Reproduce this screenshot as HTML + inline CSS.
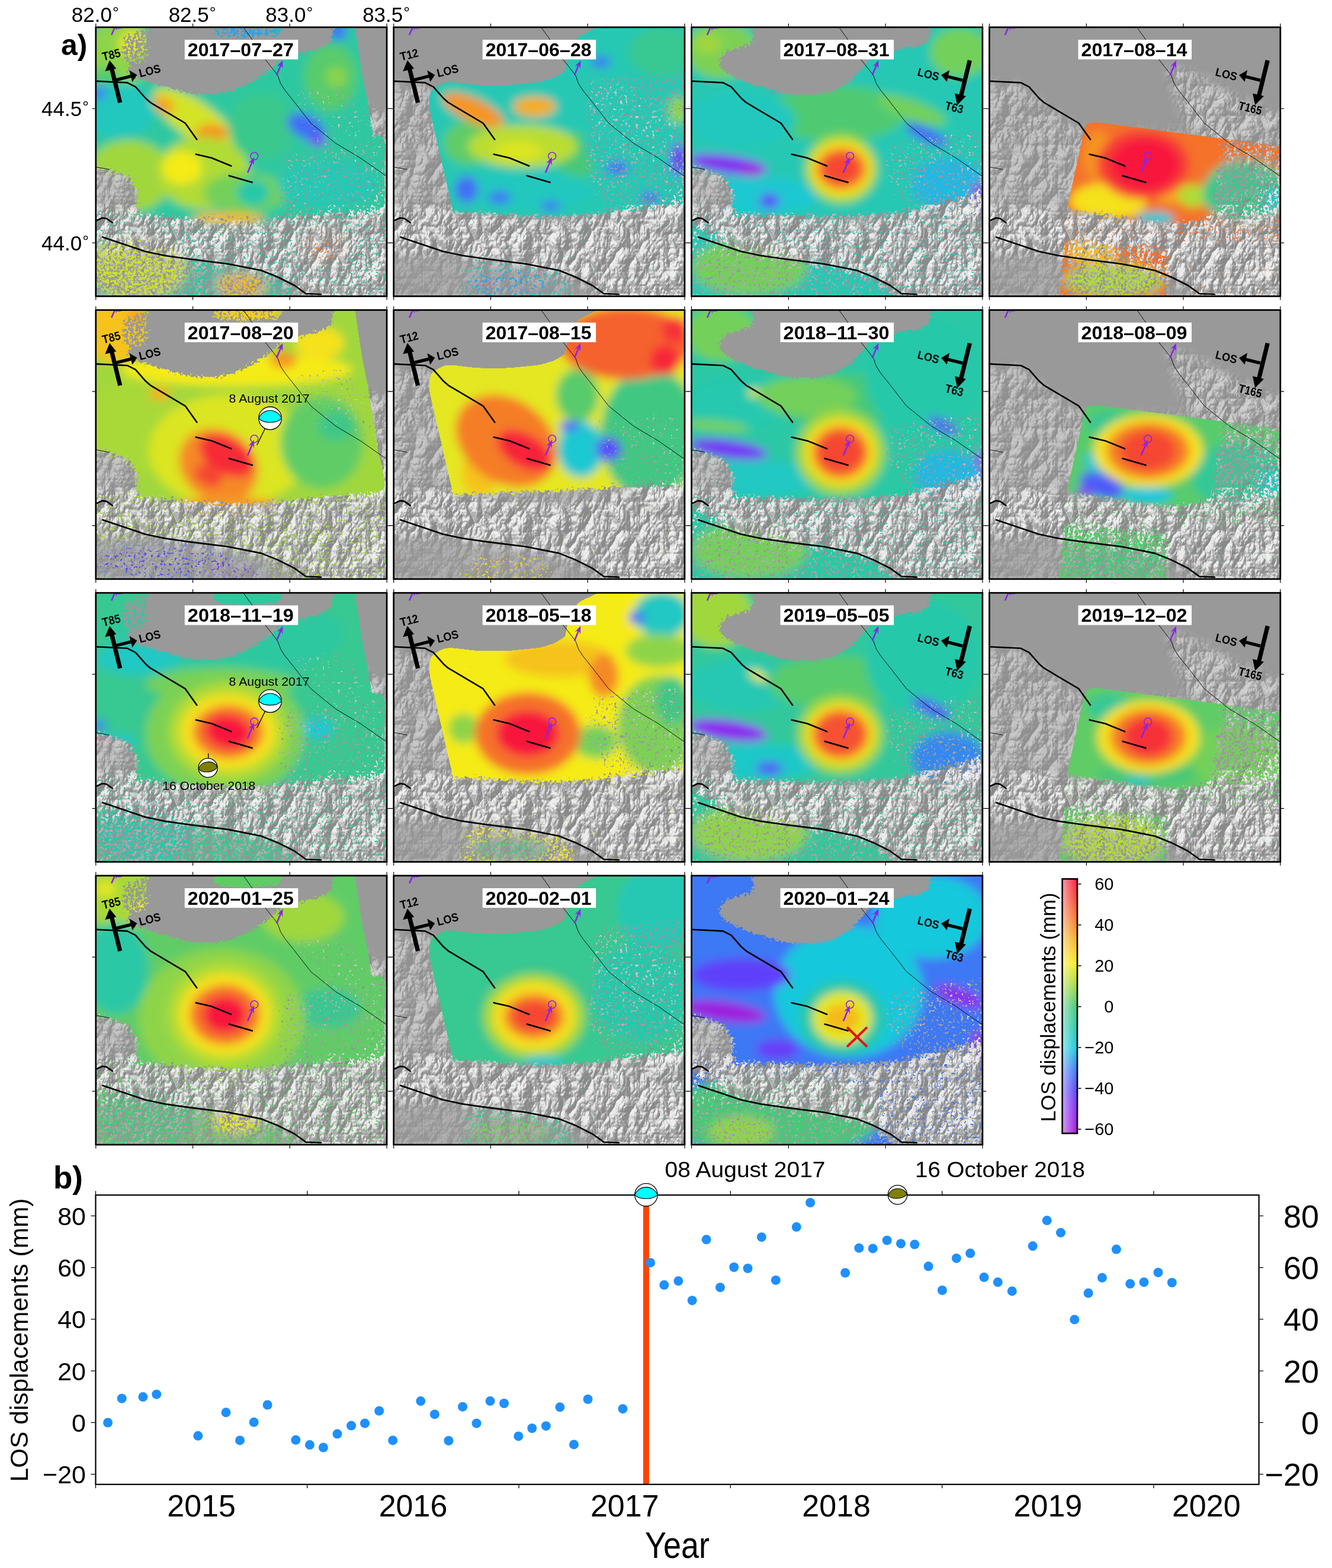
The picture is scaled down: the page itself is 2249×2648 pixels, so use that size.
<!DOCTYPE html><html><head><meta charset="utf-8"><title>LOS displacement maps and time series</title>
<style>html,body{margin:0;padding:0;background:#fff;overflow:hidden}svg{display:block}</style></head><body>
<svg width="2249" height="2648" viewBox="0 0 2249 2648">
<defs><filter id="relief" filterUnits="userSpaceOnUse" x="0" y="0" width="491.3" height="454.3" color-interpolation-filters="sRGB"><feTurbulence type="turbulence" baseFrequency="0.03 0.02" numOctaves="4" seed="11" result="t"/><feDiffuseLighting in="t" surfaceScale="14" diffuseConstant="1" lighting-color="#ffffff"><feDistantLight azimuth="225" elevation="38"/></feDiffuseLighting><feComponentTransfer><feFuncR type="table" tableValues="0.54 0.6 0.66 0.72 0.855 0.95"/><feFuncG type="table" tableValues="0.54 0.6 0.66 0.72 0.855 0.95"/><feFuncB type="table" tableValues="0.54 0.6 0.66 0.72 0.855 0.95"/></feComponentTransfer></filter><filter id="relief2" filterUnits="userSpaceOnUse" x="0" y="0" width="491.3" height="454.3" color-interpolation-filters="sRGB"><feTurbulence type="fractalNoise" baseFrequency="0.012 0.03" numOctaves="4" seed="3" result="t"/><feDiffuseLighting in="t" surfaceScale="9" diffuseConstant="1.0" lighting-color="#ffffff"><feDistantLight azimuth="225" elevation="40"/></feDiffuseLighting></filter><filter id="bl8" x="-20%" y="-20%" width="140%" height="140%"><feGaussianBlur stdDeviation="8"/></filter><filter id="bl4" x="-20%" y="-20%" width="140%" height="140%"><feGaussianBlur stdDeviation="4"/></filter><filter id="bl12" x="-30%" y="-30%" width="160%" height="160%"><feGaussianBlur stdDeviation="12"/></filter><filter id="spk" filterUnits="userSpaceOnUse" x="0" y="0" width="491.3" height="454.3" color-interpolation-filters="sRGB"><feGaussianBlur in="SourceGraphic" stdDeviation="6" result="b"/><feColorMatrix in="b" type="matrix" values="0 0 0 0 0 0 0 0 0 0 0 0 0 0 0 1 0 0 0 0" result="L"/><feTurbulence type="fractalNoise" baseFrequency="0.22" numOctaves="3" seed="5" result="n"/><feColorMatrix in="n" type="matrix" values="0 0 0 0 0 0 0 0 0 0 0 0 0 0 0 1 0 0 0 0" result="nA"/><feComposite in="L" in2="nA" operator="arithmetic" k2="1" k3="1.1" k4="-0.6" result="c"/><feComponentTransfer in="c" result="th"><feFuncA type="discrete" tableValues="0 1"/></feComponentTransfer><feFlood flood-color="#fff"/><feComposite operator="in" in2="th"/></filter><mask id="mtn" maskUnits="userSpaceOnUse" x="0" y="0" width="491.3" height="454.3"><g filter="url(#bl8)"><polygon points="-20,312 40,300 100,305 160,318 230,322 300,322 360,310 420,290 470,262 520,250 520,480 -20,480" fill="#fff"/><polygon points="-20,95 50,95 80,120 120,150 160,175 175,200 165,260 140,300 -20,310" fill="#8a8a8a"/><polygon points="300,65 330,72 370,88 420,118 491,148 520,160 520,270 470,262 420,240 370,200 330,160 310,110" fill="#a0a0a0"/><polygon points="150,180 330,170 380,210 400,260 360,310 160,318" fill="#666"/><polygon points="-20,380 90,382 160,392 230,402 290,416 340,440 370,470 -20,470" fill="#444"/></g></mask><mask id="cov0" maskUnits="userSpaceOnUse" x="0" y="0" width="491.3" height="454.3"><g filter="url(#spk)"><polygon points="0,0 423.4,0 436,83.8 447.2,139.7 458.4,223.6 472.3,279.5 475.1,307.4 419.2,310.2 335.4,318.6 251.5,324.2 167.7,321.4 83.8,313 0,310.2" fill="#fff"/><polygon points="0,310.2 83.8,313 167.7,321.4 251.5,324.2 335.4,318.6 419.2,310.2 475.1,307.4 493,321.4 493,461.2 0,461.2" fill="#5a5a5a"/><polygon points="0,357.7 83.8,377.3 153.7,391.3 251.5,405.3 307.4,422 349.4,461.2 0,461.2" fill="#8a8a8a"/><polygon points="0,236.2 22.4,239 55.9,251.5 72.7,279.5 69.9,310.2 0,310.2" fill="#3a3a3a"/><polygon points="321.4,106.2 419.2,92.2 447.2,139.7 461.2,223.6 363.3,195.6" fill="#c8c8c8"/><polygon points="92.2,0 195.6,0 201.2,16.8 251.5,22.4 307.4,16.8 321.4,0 399.7,0 396.9,27.9 363.3,39.1 321.4,47.5 301.8,64.3 279.5,81.1 251.5,97.8 209.6,111.8 167.7,111.8 125.8,103.4 92.2,92.2 55.9,83.8 55.9,55.9 83.8,27.9" fill="#000"/><polygon points="41.9,14 92.2,0 92.2,55.9 69.9,69.9 41.9,55.9" fill="#808080"/><polygon points="307.4,212.4 475.1,195.6 475.1,310.2 307.4,321.4" fill="#b8b8b8"/><polygon points="195.6,0 307.4,0 307.4,19.6 195.6,19.6" fill="#909090"/><polygon points="167.7,315.8 293.5,315.8 293.5,335.4 167.7,335.4" fill="#9a9a9a"/><polygon points="0,357.7 153.7,391.3 153.7,461.2 0,461.2" fill="#8a8a8a"/></g></mask><mask id="cov1" maskUnits="userSpaceOnUse" x="0" y="0" width="491.3" height="454.3"><g filter="url(#spk)"><polygon points="74.1,134.2 74.1,117.4 92.2,106.2 139.7,111.8 195.6,111.8 251.5,106.2 279.5,97.8 301.8,83.8 307.4,55.9 321.4,27.9 349.4,14 399.7,0 493,0 493,296.3 363.3,313 279.5,318.6 195.6,315.8 114.6,310.2" fill="#fff"/><polygon points="114.6,310.2 195.6,315.8 279.5,318.6 363.3,313 493,296.3 493,461.2 125.8,461.2" fill="#333"/><polygon points="125.8,391.3 279.5,408 321.4,461.2 125.8,461.2" fill="#7a7a7a"/><polygon points="335.4,181.7 493,167.7 493,296.3 363.3,313" fill="#c0c0c0"/><polygon points="321.4,83.8 493,69.9 493,296.3 363.3,313 321.4,251.5" fill="#b0b0b0"/><polygon points="125.8,396.9 279.5,408 307.4,461.2 125.8,461.2" fill="#6a6a6a"/></g></mask><mask id="cov2" maskUnits="userSpaceOnUse" x="0" y="0" width="491.3" height="454.3"><g filter="url(#spk)"><polygon points="0,0 493,0 493,279.5 363.3,310.2 279.5,315.8 167.7,315.8 83.8,313 0,313" fill="#fff"/><polygon points="0,313 83.8,313 167.7,315.8 279.5,315.8 363.3,310.2 493,279.5 493,461.2 0,461.2" fill="#555"/><polygon points="0,329.8 83.8,377.3 153.7,391.3 251.5,405.3 307.4,422 349.4,461.2 0,461.2" fill="#a8a8a8"/><polygon points="335.4,190.1 493,167.7 493,279.5 363.3,310.2 321.4,251.5" fill="#b4b4b4"/><polygon points="0,236.2 22.4,239 55.9,251.5 72.7,279.5 69.9,313 0,313" fill="#3a3a3a"/><polygon points="103.4,0 402.5,0 402.5,16.8 391.3,30.7 349.4,36.3 307.4,41.9 293.5,61.5 279.5,78.3 265.5,92.2 237.6,109 195.6,114.6 156.5,111.8 125.8,103.4 83.8,89.4 64.3,78.3 44.7,64.3 55.9,41.9 106.2,27.9" fill="#000"/></g></mask><mask id="cov3" maskUnits="userSpaceOnUse" x="0" y="0" width="491.3" height="454.3"><g filter="url(#spk)"><polygon points="174.7,173.8 493,215.2 493,315.8 363.3,321.4 307.4,329.8 145.3,307.4" fill="#fff"/><polygon points="391.3,201.2 493,215.2 493,363.3 363.3,335.4" fill="#909090"/><polygon points="307.4,329.8 363.3,321.4 493,315.8 493,363.3 307.4,363.3" fill="#606060"/><polygon points="145.3,307.4 307.4,329.8 304.6,377.3 139.7,363.3" fill="#505050"/><polygon points="139.7,363.3 304.6,377.3 301.8,461.2 131.4,461.2" fill="#909090"/><polygon points="301.8,363.3 493,363.3 493,461.2 301.8,461.2" fill="#3a3a3a"/></g></mask><mask id="cov4" maskUnits="userSpaceOnUse" x="0" y="0" width="491.3" height="454.3"><g filter="url(#spk)"><polygon points="0,0 423.4,0 436,83.8 447.2,139.7 458.4,223.6 472.3,279.5 475.1,307.4 419.2,310.2 335.4,318.6 251.5,324.2 167.7,321.4 83.8,313 0,310.2" fill="#fff"/><polygon points="0,310.2 83.8,313 167.7,321.4 251.5,324.2 335.4,318.6 419.2,310.2 475.1,307.4 493,321.4 493,461.2 0,461.2" fill="#5a5a5a"/><polygon points="0,357.7 83.8,377.3 153.7,391.3 251.5,405.3 307.4,422 349.4,461.2 0,461.2" fill="#8a8a8a"/><polygon points="0,236.2 22.4,239 55.9,251.5 72.7,279.5 69.9,310.2 0,310.2" fill="#3a3a3a"/><polygon points="321.4,106.2 419.2,92.2 447.2,139.7 461.2,223.6 363.3,195.6" fill="#c8c8c8"/><polygon points="92.2,0 195.6,0 201.2,16.8 251.5,22.4 307.4,16.8 321.4,0 399.7,0 396.9,27.9 363.3,39.1 321.4,47.5 301.8,64.3 279.5,81.1 251.5,97.8 209.6,111.8 167.7,111.8 125.8,103.4 92.2,92.2 55.9,83.8 55.9,55.9 83.8,27.9" fill="#000"/><polygon points="41.9,14 92.2,0 92.2,55.9 69.9,69.9 41.9,55.9" fill="#808080"/><polygon points="0,360.5 391.3,360.5 391.3,461.2 0,461.2" fill="#606060"/><polygon points="195.6,0 307.4,0 307.4,19.6 195.6,19.6" fill="#a0a0a0"/></g></mask><mask id="cov5" maskUnits="userSpaceOnUse" x="0" y="0" width="491.3" height="454.3"><g filter="url(#spk)"><polygon points="74.1,134.2 74.1,117.4 92.2,106.2 139.7,111.8 195.6,111.8 251.5,106.2 279.5,97.8 301.8,83.8 307.4,55.9 321.4,27.9 349.4,14 399.7,0 493,0 493,296.3 363.3,313 279.5,318.6 195.6,315.8 114.6,310.2" fill="#fff"/><polygon points="114.6,310.2 195.6,315.8 279.5,318.6 363.3,313 493,296.3 493,461.2 125.8,461.2" fill="#333"/><polygon points="125.8,391.3 279.5,408 321.4,461.2 125.8,461.2" fill="#7a7a7a"/><polygon points="335.4,181.7 493,167.7 493,296.3 363.3,313" fill="#c0c0c0"/><polygon points="114.6,310.2 493,296.3 493,461.2 125.8,461.2" fill="#2a2a2a"/><polygon points="125.8,405.3 251.5,413.6 279.5,461.2 125.8,461.2" fill="#5a5a5a"/></g></mask><mask id="cov6" maskUnits="userSpaceOnUse" x="0" y="0" width="491.3" height="454.3"><g filter="url(#spk)"><polygon points="0,0 493,0 493,279.5 363.3,310.2 279.5,315.8 167.7,315.8 83.8,313 0,313" fill="#fff"/><polygon points="0,313 83.8,313 167.7,315.8 279.5,315.8 363.3,310.2 493,279.5 493,461.2 0,461.2" fill="#555"/><polygon points="0,329.8 83.8,377.3 153.7,391.3 251.5,405.3 307.4,422 349.4,461.2 0,461.2" fill="#a8a8a8"/><polygon points="335.4,190.1 493,167.7 493,279.5 363.3,310.2 321.4,251.5" fill="#b4b4b4"/><polygon points="0,236.2 22.4,239 55.9,251.5 72.7,279.5 69.9,313 0,313" fill="#3a3a3a"/><polygon points="103.4,0 402.5,0 402.5,16.8 391.3,30.7 349.4,36.3 307.4,41.9 293.5,61.5 279.5,78.3 265.5,92.2 237.6,109 195.6,114.6 156.5,111.8 125.8,103.4 83.8,89.4 64.3,78.3 44.7,64.3 55.9,41.9 106.2,27.9" fill="#000"/></g></mask><mask id="cov7" maskUnits="userSpaceOnUse" x="0" y="0" width="491.3" height="454.3"><g filter="url(#spk)"><polygon points="174.7,173.8 493,215.2 493,315.8 363.3,321.4 307.4,329.8 145.3,307.4" fill="#fff"/><polygon points="391.3,201.2 493,215.2 493,363.3 363.3,335.4" fill="#909090"/><polygon points="307.4,329.8 363.3,321.4 493,315.8 493,363.3 307.4,363.3" fill="#606060"/><polygon points="145.3,307.4 307.4,329.8 304.6,377.3 139.7,363.3" fill="#505050"/><polygon points="139.7,363.3 304.6,377.3 301.8,461.2 131.4,461.2" fill="#909090"/><polygon points="301.8,363.3 493,363.3 493,461.2 301.8,461.2" fill="#3a3a3a"/></g></mask><mask id="cov8" maskUnits="userSpaceOnUse" x="0" y="0" width="491.3" height="454.3"><g filter="url(#spk)"><polygon points="0,0 423.4,0 436,83.8 447.2,139.7 458.4,223.6 472.3,279.5 475.1,307.4 419.2,310.2 335.4,318.6 251.5,324.2 167.7,321.4 83.8,313 0,310.2" fill="#fff"/><polygon points="0,310.2 83.8,313 167.7,321.4 251.5,324.2 335.4,318.6 419.2,310.2 475.1,307.4 493,321.4 493,461.2 0,461.2" fill="#5a5a5a"/><polygon points="0,357.7 83.8,377.3 153.7,391.3 251.5,405.3 307.4,422 349.4,461.2 0,461.2" fill="#8a8a8a"/><polygon points="0,236.2 22.4,239 55.9,251.5 72.7,279.5 69.9,310.2 0,310.2" fill="#3a3a3a"/><polygon points="321.4,106.2 419.2,92.2 447.2,139.7 461.2,223.6 363.3,195.6" fill="#c8c8c8"/><polygon points="92.2,0 195.6,0 201.2,16.8 251.5,22.4 307.4,16.8 321.4,0 399.7,0 396.9,27.9 363.3,39.1 321.4,47.5 301.8,64.3 279.5,81.1 251.5,97.8 209.6,111.8 167.7,111.8 125.8,103.4 92.2,92.2 55.9,83.8 55.9,55.9 83.8,27.9" fill="#000"/><polygon points="41.9,14 92.2,0 92.2,55.9 69.9,69.9 41.9,55.9" fill="#808080"/><polygon points="307.4,195.6 475.1,181.7 475.1,310.2 307.4,321.4" fill="#b8b8b8"/></g></mask><mask id="cov9" maskUnits="userSpaceOnUse" x="0" y="0" width="491.3" height="454.3"><g filter="url(#spk)"><polygon points="74.1,134.2 74.1,117.4 92.2,106.2 139.7,111.8 195.6,111.8 251.5,106.2 279.5,97.8 301.8,83.8 307.4,55.9 321.4,27.9 349.4,14 399.7,0 493,0 493,296.3 363.3,313 279.5,318.6 195.6,315.8 114.6,310.2" fill="#fff"/><polygon points="114.6,310.2 195.6,315.8 279.5,318.6 363.3,313 493,296.3 493,461.2 125.8,461.2" fill="#333"/><polygon points="125.8,391.3 279.5,408 321.4,461.2 125.8,461.2" fill="#7a7a7a"/><polygon points="335.4,181.7 493,167.7 493,296.3 363.3,313" fill="#c0c0c0"/><polygon points="335.4,167.7 493,153.7 493,296.3 363.3,313 321.4,251.5" fill="#b4b4b4"/></g></mask><mask id="cov10" maskUnits="userSpaceOnUse" x="0" y="0" width="491.3" height="454.3"><g filter="url(#spk)"><polygon points="0,0 493,0 493,279.5 363.3,310.2 279.5,315.8 167.7,315.8 83.8,313 0,313" fill="#fff"/><polygon points="0,313 83.8,313 167.7,315.8 279.5,315.8 363.3,310.2 493,279.5 493,461.2 0,461.2" fill="#555"/><polygon points="0,329.8 83.8,377.3 153.7,391.3 251.5,405.3 307.4,422 349.4,461.2 0,461.2" fill="#a8a8a8"/><polygon points="335.4,190.1 493,167.7 493,279.5 363.3,310.2 321.4,251.5" fill="#b4b4b4"/><polygon points="0,236.2 22.4,239 55.9,251.5 72.7,279.5 69.9,313 0,313" fill="#3a3a3a"/><polygon points="103.4,0 402.5,0 402.5,16.8 391.3,30.7 349.4,36.3 307.4,41.9 293.5,61.5 279.5,78.3 265.5,92.2 237.6,109 195.6,114.6 156.5,111.8 125.8,103.4 83.8,89.4 64.3,78.3 44.7,64.3 55.9,41.9 106.2,27.9" fill="#000"/></g></mask><mask id="cov11" maskUnits="userSpaceOnUse" x="0" y="0" width="491.3" height="454.3"><g filter="url(#spk)"><polygon points="174.7,173.8 493,215.2 493,315.8 363.3,321.4 307.4,329.8 145.3,307.4" fill="#fff"/><polygon points="391.3,201.2 493,215.2 493,363.3 363.3,335.4" fill="#909090"/><polygon points="307.4,329.8 363.3,321.4 493,315.8 493,363.3 307.4,363.3" fill="#606060"/><polygon points="145.3,307.4 307.4,329.8 304.6,377.3 139.7,363.3" fill="#505050"/><polygon points="139.7,363.3 304.6,377.3 301.8,461.2 131.4,461.2" fill="#909090"/><polygon points="301.8,363.3 493,363.3 493,461.2 301.8,461.2" fill="#3a3a3a"/></g></mask><mask id="cov12" maskUnits="userSpaceOnUse" x="0" y="0" width="491.3" height="454.3"><g filter="url(#spk)"><polygon points="0,0 423.4,0 436,83.8 447.2,139.7 458.4,223.6 472.3,279.5 475.1,307.4 419.2,310.2 335.4,318.6 251.5,324.2 167.7,321.4 83.8,313 0,310.2" fill="#fff"/><polygon points="0,310.2 83.8,313 167.7,321.4 251.5,324.2 335.4,318.6 419.2,310.2 475.1,307.4 493,321.4 493,461.2 0,461.2" fill="#5a5a5a"/><polygon points="0,357.7 83.8,377.3 153.7,391.3 251.5,405.3 307.4,422 349.4,461.2 0,461.2" fill="#8a8a8a"/><polygon points="0,236.2 22.4,239 55.9,251.5 72.7,279.5 69.9,310.2 0,310.2" fill="#3a3a3a"/><polygon points="321.4,106.2 419.2,92.2 447.2,139.7 461.2,223.6 363.3,195.6" fill="#c8c8c8"/><polygon points="92.2,0 195.6,0 201.2,16.8 251.5,22.4 307.4,16.8 321.4,0 399.7,0 396.9,27.9 363.3,39.1 321.4,47.5 301.8,64.3 279.5,81.1 251.5,97.8 209.6,111.8 167.7,111.8 125.8,103.4 92.2,92.2 55.9,83.8 55.9,55.9 83.8,27.9" fill="#000"/><polygon points="41.9,14 92.2,0 92.2,55.9 69.9,69.9 41.9,55.9" fill="#808080"/><polygon points="307.4,195.6 475.1,181.7 475.1,310.2 307.4,321.4" fill="#b8b8b8"/></g></mask><mask id="cov13" maskUnits="userSpaceOnUse" x="0" y="0" width="491.3" height="454.3"><g filter="url(#spk)"><polygon points="74.1,134.2 74.1,117.4 92.2,106.2 139.7,111.8 195.6,111.8 251.5,106.2 279.5,97.8 301.8,83.8 307.4,55.9 321.4,27.9 349.4,14 399.7,0 493,0 493,296.3 363.3,313 279.5,318.6 195.6,315.8 114.6,310.2" fill="#fff"/><polygon points="114.6,310.2 195.6,315.8 279.5,318.6 363.3,313 493,296.3 493,461.2 125.8,461.2" fill="#333"/><polygon points="125.8,391.3 279.5,408 321.4,461.2 125.8,461.2" fill="#7a7a7a"/><polygon points="335.4,181.7 493,167.7 493,296.3 363.3,313" fill="#c0c0c0"/><polygon points="335.4,83.8 493,69.9 493,296.3 363.3,313 321.4,251.5" fill="#b0b0b0"/></g></mask><mask id="cov14" maskUnits="userSpaceOnUse" x="0" y="0" width="491.3" height="454.3"><g filter="url(#spk)"><polygon points="0,0 493,0 493,279.5 363.3,310.2 279.5,315.8 167.7,315.8 83.8,313 0,313" fill="#fff"/><polygon points="0,313 83.8,313 167.7,315.8 279.5,315.8 363.3,310.2 493,279.5 493,461.2 0,461.2" fill="#555"/><polygon points="0,329.8 83.8,377.3 153.7,391.3 251.5,405.3 307.4,422 349.4,461.2 0,461.2" fill="#a8a8a8"/><polygon points="335.4,190.1 493,167.7 493,279.5 363.3,310.2 321.4,251.5" fill="#b4b4b4"/><polygon points="0,236.2 22.4,239 55.9,251.5 72.7,279.5 69.9,313 0,313" fill="#3a3a3a"/><polygon points="103.4,0 402.5,0 402.5,16.8 391.3,30.7 349.4,36.3 307.4,41.9 293.5,61.5 279.5,78.3 265.5,92.2 237.6,109 195.6,114.6 156.5,111.8 125.8,103.4 83.8,89.4 64.3,78.3 44.7,64.3 55.9,41.9 106.2,27.9" fill="#000"/></g></mask><g id="basemap"><rect width="491.3" height="454.3" fill="#999999"/><g mask="url(#mtn)"><rect width="491.3" height="454.3" filter="url(#relief)"/></g></g><g id="over" fill="none" stroke="#000" stroke-linejoin="round" stroke-linecap="round"><polyline points="0,91 53,93.6 67,100.6 84,120 92,127 151,162 170.5,189.5" stroke-width="2.6"/><polyline points="169,214.6 195.6,220.8 228.6,234.2" stroke-width="2.6"/><polyline points="225,250.7 264,262" stroke-width="2.6"/><polyline points="0,327 11,322 18,323 28,330" stroke-width="2.6"/><polyline points="11.7,354.4 83.8,378.7 117,385.7 156.5,391.3 223.6,399.7 279.5,410.8 307.4,422 335.4,436 354.8,450 380,451" stroke-width="2.6"/><polyline points="249,0 262,18 285,53 300,72 307,81 312,95 319,106 335,126 363,162 405,196 447,221 491.3,252" stroke-width="0.9"/><polyline points="0,236 22,240" stroke-width="0.9"/></g><g id="purp"><circle cx="267.6" cy="217.6" r="6.4" fill="none" stroke="#8c22ee" stroke-width="1.6"/><line x1="256.3" y1="245.7" x2="264.1" y2="226.9" stroke="#8c22ee" stroke-width="2.6"/><polygon points="267.2,219.5 267,233.5 264.1,226.9 257.4,229.5" fill="#8c22ee"/><line x1="305.2" y1="81" x2="312.5" y2="63.4" stroke="#8c22ee" stroke-width="2.6"/><polygon points="315.6,56 315.4,70 312.5,63.4 305.8,66" fill="#8c22ee"/><line x1="26.5" y1="13" x2="32.3" y2="-0.6" stroke="#8c22ee" stroke-width="2.6"/><polygon points="35.5,-8 35.2,6 32.3,-0.6 25.6,1.9" fill="#8c22ee"/><path d="M 33,0 Q 40,4 48,-1" fill="none" stroke="#8c22ee" stroke-width="1.6"/></g><g id="lbox"><rect x="150" y="21.2" width="191.5" height="33.1" fill="#fff"/></g><g id="trk_T85"><g><line x1="40.9" y1="127.4" x2="26.8" y2="70" stroke="#000" stroke-width="7.3"/><polygon points="23.2,55.7 15.6,74.5 34.5,69.8" fill="#000"/><line x1="32.8" y1="89.3" x2="60" y2="82.5" stroke="#000" stroke-width="5.4"/><polygon points="69.6,80.5 56.6,72.8 61.6,92.4" fill="#000"/><text x="0" y="0" transform="translate(12.8,56.8) rotate(-14)" font-size="20" font-weight="bold" font-family="Liberation Sans, Arial, sans-serif" textLength="31" lengthAdjust="spacingAndGlyphs">T85</text><text x="0" y="0" transform="translate(74.8,84.6) rotate(-14)" font-size="19.5" font-weight="bold" font-family="Liberation Sans, Arial, sans-serif" textLength="37" lengthAdjust="spacingAndGlyphs">LOS</text></g></g><g id="trk_T12"><g><line x1="40.9" y1="127.4" x2="26.8" y2="70" stroke="#000" stroke-width="7.3"/><polygon points="23.2,55.7 15.6,74.5 34.5,69.8" fill="#000"/><line x1="32.8" y1="89.3" x2="60" y2="82.5" stroke="#000" stroke-width="5.4"/><polygon points="69.6,80.5 56.6,72.8 61.6,92.4" fill="#000"/><text x="0" y="0" transform="translate(12.8,56.8) rotate(-14)" font-size="20" font-weight="bold" font-family="Liberation Sans, Arial, sans-serif" textLength="31" lengthAdjust="spacingAndGlyphs">T12</text><text x="0" y="0" transform="translate(74.8,84.6) rotate(-14)" font-size="19.5" font-weight="bold" font-family="Liberation Sans, Arial, sans-serif" textLength="37" lengthAdjust="spacingAndGlyphs">LOS</text></g></g><g id="trk_T63"><g><line x1="469.8" y1="55.9" x2="455.3" y2="115" stroke="#000" stroke-width="7.3"/><polygon points="448.6,131.6 444.6,111.7 463.5,116.3" fill="#000"/><line x1="457.5" y1="89.6" x2="431" y2="83" stroke="#000" stroke-width="5.4"/><polygon points="421.5,80.8 435.6,72.5 431.2,92.2" fill="#000"/><text x="0" y="0" transform="translate(380.5,81.5) rotate(14)" font-size="19.5" font-weight="bold" font-family="Liberation Sans, Arial, sans-serif" textLength="37" lengthAdjust="spacingAndGlyphs">LOS</text><text x="0" y="0" transform="translate(427,138.5) rotate(14)" font-size="20" font-weight="bold" font-family="Liberation Sans, Arial, sans-serif" textLength="31" lengthAdjust="spacingAndGlyphs">T63</text></g></g><g id="trk_T165"><g><line x1="469.8" y1="55.9" x2="455.3" y2="115" stroke="#000" stroke-width="7.3"/><polygon points="448.6,131.6 444.6,111.7 463.5,116.3" fill="#000"/><line x1="457.5" y1="89.6" x2="431" y2="83" stroke="#000" stroke-width="5.4"/><polygon points="421.5,80.8 435.6,72.5 431.2,92.2" fill="#000"/><text x="0" y="0" transform="translate(380.5,81.5) rotate(14)" font-size="19.5" font-weight="bold" font-family="Liberation Sans, Arial, sans-serif" textLength="37" lengthAdjust="spacingAndGlyphs">LOS</text><text x="0" y="0" transform="translate(419.5,138.5) rotate(14)" font-size="20" font-weight="bold" font-family="Liberation Sans, Arial, sans-serif" textLength="40" lengthAdjust="spacingAndGlyphs">T165</text></g></g></defs>
<rect width="2249" height="2648" fill="#fff"/>
<svg x="161.8" y="46" width="491.3" height="454.3" viewBox="0 0 491.3 454.3" overflow="hidden">
<use href="#basemap"/>
<g mask="url(#cov0)"><g filter="url(#bl8)"><rect x="-30" y="-30" width="560" height="520" fill="#2ec8a0"/><ellipse cx="41.9" cy="41.9" rx="55.9" ry="55.9" transform="rotate(0 41.9 41.9)" fill="#8ed448"/><ellipse cx="61.5" cy="27.9" rx="22.4" ry="22.4" transform="rotate(0 61.5 27.9)" fill="#e4e720"/><ellipse cx="16.8" cy="83.8" rx="22.4" ry="16.8" transform="rotate(0 16.8 83.8)" fill="#58cb6c"/><ellipse cx="251.5" cy="8.4" rx="61.5" ry="16.8" transform="rotate(0 251.5 8.4)" fill="#2aa0e8"/><ellipse cx="36.3" cy="139.7" rx="64.3" ry="47.5" transform="rotate(0 36.3 139.7)" fill="#22c8be"/><ellipse cx="5.6" cy="111.8" rx="11.2" ry="11.2" transform="rotate(0 5.6 111.8)" fill="#3c78f5"/><ellipse cx="55.9" cy="251.5" rx="72.7" ry="61.5" transform="rotate(0 55.9 251.5)" fill="#a0d73c"/><ellipse cx="167.7" cy="156.5" rx="83.8" ry="30.7" transform="rotate(35 167.7 156.5)" fill="#d3e327"/><ellipse cx="114.6" cy="131.4" rx="19.6" ry="12.6" transform="rotate(30 114.6 131.4)" fill="#f5a122"/><ellipse cx="195.6" cy="178.9" rx="27.9" ry="15.4" transform="rotate(0 195.6 178.9)" fill="#f59524"/><ellipse cx="181.7" cy="245.9" rx="78.3" ry="61.5" transform="rotate(0 181.7 245.9)" fill="#b1db35"/><ellipse cx="145.3" cy="237.6" rx="33.5" ry="27.9" transform="rotate(0 145.3 237.6)" fill="#f5eb19"/><ellipse cx="279.5" cy="167.7" rx="55.9" ry="55.9" transform="rotate(0 279.5 167.7)" fill="#3ac88c"/><ellipse cx="354.9" cy="167.7" rx="33.5" ry="19.6" transform="rotate(25 354.9 167.7)" fill="#436df6"/><ellipse cx="374.5" cy="192.8" rx="14" ry="8.4" transform="rotate(0 374.5 192.8)" fill="#7634f5"/><ellipse cx="396.9" cy="83.8" rx="44.7" ry="55.9" transform="rotate(0 396.9 83.8)" fill="#58cb6c"/><ellipse cx="405.3" cy="83.8" rx="16.8" ry="16.8" transform="rotate(0 405.3 83.8)" fill="#8ed448"/><ellipse cx="408" cy="5.6" rx="16.8" ry="16.8" transform="rotate(0 408 5.6)" fill="#3c78f5"/><ellipse cx="251.5" cy="279.5" rx="69.9" ry="33.5" transform="rotate(0 251.5 279.5)" fill="#73d05a"/><ellipse cx="265.5" cy="279.5" rx="27.9" ry="22.4" transform="rotate(0 265.5 279.5)" fill="#28c8aa"/><ellipse cx="391.3" cy="265.5" rx="83.8" ry="41.9" transform="rotate(0 391.3 265.5)" fill="#25c8b4"/><ellipse cx="223.6" cy="324.2" rx="61.5" ry="11.2" transform="rotate(0 223.6 324.2)" fill="#f5b91e"/><ellipse cx="385.7" cy="368.9" rx="36.3" ry="27.9" transform="rotate(0 385.7 368.9)" fill="#f57d28"/><ellipse cx="396.9" cy="380.1" rx="8.4" ry="8.4" transform="rotate(0 396.9 380.1)" fill="#f63037"/><ellipse cx="69.9" cy="405.3" rx="83.8" ry="55.9" transform="rotate(0 69.9 405.3)" fill="#cae12a"/><ellipse cx="245.9" cy="436" rx="41.9" ry="22.4" transform="rotate(0 245.9 436)" fill="#f5b91e"/><ellipse cx="363.3" cy="447.2" rx="16.8" ry="8.4" transform="rotate(0 363.3 447.2)" fill="#f63037"/></g></g>
<use href="#over"/>
<use href="#purp"/>
<use href="#trk_T85"/>
<use href="#lbox"/>
<text x="155" y="49.2" font-size="31.5" font-weight="bold" font-family="Liberation Sans, Arial, sans-serif" textLength="179" lengthAdjust="spacingAndGlyphs">2017–07–27</text>
</svg>
<rect x="161.8" y="46" width="491.3" height="454.3" fill="none" stroke="#000" stroke-width="2.7"/>
<path d="M161.8,44.7V39.7M161.8,501.6V506.6M325.6,44.7V39.7M325.6,501.6V506.6M489.3,44.7V39.7M489.3,501.6V506.6M653.1,44.7V39.7M653.1,501.6V506.6M160.5,183.5H155.5M654.4,183.5H659.4M160.5,410.1H155.5M654.4,410.1H659.4" stroke="#000" stroke-width="1.2" fill="none"/>
<svg x="664.7" y="46" width="491.3" height="454.3" viewBox="0 0 491.3 454.3" overflow="hidden">
<use href="#basemap"/>
<g mask="url(#cov1)"><g filter="url(#bl8)"><rect x="-30" y="-30" width="560" height="520" fill="#25c8b4"/><ellipse cx="125.8" cy="195.6" rx="41.9" ry="36.3" transform="rotate(0 125.8 195.6)" fill="#61cc66"/><ellipse cx="307.4" cy="218" rx="33.5" ry="41.9" transform="rotate(0 307.4 218)" fill="#46c878"/><ellipse cx="218" cy="201.2" rx="92.2" ry="36.3" transform="rotate(0 218 201.2)" fill="#badd32"/><ellipse cx="209.6" cy="209.6" rx="41.9" ry="16.8" transform="rotate(0 209.6 209.6)" fill="#dce524"/><ellipse cx="134.2" cy="139.7" rx="55.9" ry="19.6" transform="rotate(25 134.2 139.7)" fill="#f59524"/><ellipse cx="237.6" cy="134.2" rx="36.3" ry="16.8" transform="rotate(0 237.6 134.2)" fill="#f5ad20"/><ellipse cx="223.6" cy="273.9" rx="111.8" ry="33.5" transform="rotate(0 223.6 273.9)" fill="#22c8be"/><ellipse cx="123" cy="273.9" rx="19.6" ry="22.4" transform="rotate(0 123 273.9)" fill="#436df6"/><ellipse cx="178.9" cy="287.9" rx="19.6" ry="11.2" transform="rotate(0 178.9 287.9)" fill="#3c78f5"/><ellipse cx="265.5" cy="301.8" rx="16.8" ry="8.4" transform="rotate(0 265.5 301.8)" fill="#3c78f5"/><ellipse cx="405.3" cy="153.7" rx="89.4" ry="125.8" transform="rotate(0 405.3 153.7)" fill="#25c8b4"/><ellipse cx="349.4" cy="58.7" rx="16.8" ry="9.8" transform="rotate(0 349.4 58.7)" fill="#3c78f5"/><ellipse cx="377.3" cy="237.6" rx="19.6" ry="11.2" transform="rotate(0 377.3 237.6)" fill="#436df6"/><ellipse cx="433.2" cy="287.9" rx="16.8" ry="8.4" transform="rotate(0 433.2 287.9)" fill="#4e5cf8"/><ellipse cx="480.7" cy="223.6" rx="14" ry="27.9" transform="rotate(0 480.7 223.6)" fill="#683cf8"/><ellipse cx="452.8" cy="41.9" rx="55.9" ry="41.9" transform="rotate(0 452.8 41.9)" fill="#37c891"/><ellipse cx="480.7" cy="139.7" rx="16.8" ry="22.4" transform="rotate(0 480.7 139.7)" fill="#8ed448"/><ellipse cx="195.6" cy="433.2" rx="69.9" ry="22.4" transform="rotate(0 195.6 433.2)" fill="#2aa0e8"/></g></g>
<use href="#over"/>
<use href="#purp"/>
<use href="#trk_T12"/>
<use href="#lbox"/>
<text x="155" y="49.2" font-size="31.5" font-weight="bold" font-family="Liberation Sans, Arial, sans-serif" textLength="179" lengthAdjust="spacingAndGlyphs">2017–06–28</text>
</svg>
<rect x="664.7" y="46" width="491.3" height="454.3" fill="none" stroke="#000" stroke-width="2.7"/>
<path d="M664.7,44.7V39.7M664.7,501.6V506.6M828.5,44.7V39.7M828.5,501.6V506.6M992.2,44.7V39.7M992.2,501.6V506.6M1156,44.7V39.7M1156,501.6V506.6M663.4,183.5H658.4M1157.3,183.5H1162.3M663.4,410.1H658.4M1157.3,410.1H1162.3" stroke="#000" stroke-width="1.2" fill="none"/>
<svg x="1167.6" y="46" width="491.3" height="454.3" viewBox="0 0 491.3 454.3" overflow="hidden">
<use href="#basemap"/>
<g mask="url(#cov2)"><g filter="url(#bl8)"><rect x="-30" y="-30" width="560" height="520" fill="#25c8b4"/><ellipse cx="50.3" cy="39.1" rx="61.5" ry="47.5" transform="rotate(0 50.3 39.1)" fill="#7cd154"/><ellipse cx="27.9" cy="27.9" rx="22.4" ry="16.8" transform="rotate(0 27.9 27.9)" fill="#a0d73c"/><ellipse cx="243.2" cy="145.3" rx="117.4" ry="47.5" transform="rotate(0 243.2 145.3)" fill="#4fca72"/><ellipse cx="83.8" cy="156.5" rx="92.2" ry="44.7" transform="rotate(0 83.8 156.5)" fill="#22c8be"/><ellipse cx="61.5" cy="232" rx="67.1" ry="15.4" transform="rotate(8 61.5 232)" fill="#832df2"/><ellipse cx="100.6" cy="243.2" rx="19.6" ry="8.4" transform="rotate(0 100.6 243.2)" fill="#a01cdc"/><ellipse cx="111.8" cy="285.1" rx="106.2" ry="30.7" transform="rotate(0 111.8 285.1)" fill="#1cc8d2"/><ellipse cx="131.4" cy="293.5" rx="16.8" ry="12.6" transform="rotate(0 131.4 293.5)" fill="#584cf9"/><ellipse cx="371.7" cy="139.7" rx="61.5" ry="16.8" transform="rotate(20 371.7 139.7)" fill="#73d05a"/><ellipse cx="396.9" cy="181.7" rx="39.1" ry="11.2" transform="rotate(25 396.9 181.7)" fill="#4668f6"/><ellipse cx="433.2" cy="265.5" rx="61.5" ry="44.7" transform="rotate(0 433.2 265.5)" fill="#20b8e1"/><ellipse cx="483.5" cy="293.5" rx="11.2" ry="33.5" transform="rotate(0 483.5 293.5)" fill="#9125eb"/><ellipse cx="452.8" cy="41.9" rx="50.3" ry="41.9" transform="rotate(0 452.8 41.9)" fill="#73d05a"/><ellipse cx="252.9" cy="239" rx="61.5" ry="58.7" transform="rotate(0 252.9 239)" fill="#a0d73c"/><ellipse cx="252.9" cy="239" rx="51.7" ry="47.5" transform="rotate(0 252.9 239)" fill="#f5e11a"/><ellipse cx="252.9" cy="239" rx="41.9" ry="34.9" transform="rotate(0 252.9 239)" fill="#f5722a"/><ellipse cx="252.9" cy="239" rx="30.7" ry="25.2" transform="rotate(0 252.9 239)" fill="#f54632"/><ellipse cx="97.8" cy="405.3" rx="97.8" ry="47.5" transform="rotate(0 97.8 405.3)" fill="#73d05a"/></g></g>
<use href="#over"/>
<use href="#purp"/>
<use href="#trk_T63"/>
<use href="#lbox"/>
<text x="155" y="49.2" font-size="31.5" font-weight="bold" font-family="Liberation Sans, Arial, sans-serif" textLength="179" lengthAdjust="spacingAndGlyphs">2017–08–31</text>
</svg>
<rect x="1167.6" y="46" width="491.3" height="454.3" fill="none" stroke="#000" stroke-width="2.7"/>
<path d="M1167.6,44.7V39.7M1167.6,501.6V506.6M1331.4,44.7V39.7M1331.4,501.6V506.6M1495.1,44.7V39.7M1495.1,501.6V506.6M1658.9,44.7V39.7M1658.9,501.6V506.6M1166.3,183.5H1161.3M1660.2,183.5H1665.2M1166.3,410.1H1161.3M1660.2,410.1H1665.2" stroke="#000" stroke-width="1.2" fill="none"/>
<svg x="1670.5" y="46" width="491.3" height="454.3" viewBox="0 0 491.3 454.3" overflow="hidden">
<use href="#basemap"/>
<g mask="url(#cov3)"><g filter="url(#bl8)"><rect x="-30" y="-30" width="560" height="520" fill="#f5722a"/><ellipse cx="184.5" cy="218" rx="25.2" ry="41.9" transform="rotate(0 184.5 218)" fill="#f59524"/><ellipse cx="201.2" cy="293.5" rx="64.3" ry="30.7" transform="rotate(0 201.2 293.5)" fill="#f5e11a"/><ellipse cx="307.4" cy="279.5" rx="36.3" ry="16.8" transform="rotate(0 307.4 279.5)" fill="#f5ad20"/><ellipse cx="343.8" cy="285.1" rx="25.2" ry="19.6" transform="rotate(0 343.8 285.1)" fill="#b1db35"/><ellipse cx="433.2" cy="279.5" rx="72.7" ry="55.9" transform="rotate(0 433.2 279.5)" fill="#3ac88c"/><ellipse cx="480.7" cy="293.5" rx="16.8" ry="22.4" transform="rotate(0 480.7 293.5)" fill="#1fc8c8"/><ellipse cx="279.5" cy="324.2" rx="33.5" ry="12.6" transform="rotate(0 279.5 324.2)" fill="#1cc8d2"/><ellipse cx="259.9" cy="232" rx="78.3" ry="58.7" transform="rotate(0 259.9 232)" fill="#f63d34"/><ellipse cx="262.7" cy="232" rx="58.7" ry="44.7" transform="rotate(0 262.7 232)" fill="#f8193c"/><ellipse cx="173.3" cy="377.3" rx="41.9" ry="27.9" transform="rotate(0 173.3 377.3)" fill="#f5b91e"/><ellipse cx="209.6" cy="427.6" rx="83.8" ry="27.9" transform="rotate(0 209.6 427.6)" fill="#b1db35"/></g></g>
<use href="#over"/>
<use href="#purp"/>
<use href="#trk_T165"/>
<use href="#lbox"/>
<text x="155" y="49.2" font-size="31.5" font-weight="bold" font-family="Liberation Sans, Arial, sans-serif" textLength="179" lengthAdjust="spacingAndGlyphs">2017–08–14</text>
</svg>
<rect x="1670.5" y="46" width="491.3" height="454.3" fill="none" stroke="#000" stroke-width="2.7"/>
<path d="M1670.5,44.7V39.7M1670.5,501.6V506.6M1834.3,44.7V39.7M1834.3,501.6V506.6M1998,44.7V39.7M1998,501.6V506.6M2161.8,44.7V39.7M2161.8,501.6V506.6M1669.2,183.5H1664.2M2163.1,183.5H2168.1M1669.2,410.1H1664.2M2163.1,410.1H2168.1" stroke="#000" stroke-width="1.2" fill="none"/>
<svg x="161.8" y="523.6" width="491.3" height="454.3" viewBox="0 0 491.3 454.3" overflow="hidden">
<use href="#basemap"/>
<g mask="url(#cov4)"><g filter="url(#bl8)"><rect x="-30" y="-30" width="560" height="520" fill="#a0d73c"/><ellipse cx="33.5" cy="33.5" rx="55.9" ry="55.9" transform="rotate(0 33.5 33.5)" fill="#f5c31d"/><ellipse cx="69.9" cy="11.2" rx="16.8" ry="11.2" transform="rotate(0 69.9 11.2)" fill="#f59b23"/><ellipse cx="251.5" cy="8.4" rx="61.5" ry="16.8" transform="rotate(0 251.5 8.4)" fill="#f5cd1c"/><ellipse cx="69.9" cy="195.6" rx="83.8" ry="83.8" transform="rotate(0 69.9 195.6)" fill="#a8d938"/><ellipse cx="237.6" cy="100.6" rx="195.6" ry="27.9" transform="rotate(0 237.6 100.6)" fill="#f5eb19"/><ellipse cx="316.7" cy="84.7" rx="22.4" ry="14" transform="rotate(0 316.7 84.7)" fill="#f59524"/><ellipse cx="107.3" cy="141.1" rx="16.8" ry="11.2" transform="rotate(0 107.3 141.1)" fill="#f5ad20"/><ellipse cx="377.3" cy="55.9" rx="41.9" ry="27.9" transform="rotate(0 377.3 55.9)" fill="#f5e11a"/><ellipse cx="223.6" cy="237.6" rx="134.2" ry="95" transform="rotate(0 223.6 237.6)" fill="#dce524"/><ellipse cx="381.5" cy="223.6" rx="69.9" ry="78.3" transform="rotate(0 381.5 223.6)" fill="#61cc66"/><ellipse cx="405.3" cy="195.6" rx="30.7" ry="25.2" transform="rotate(0 405.3 195.6)" fill="#3dc887"/><ellipse cx="206.8" cy="262.7" rx="69.9" ry="58.7" transform="rotate(35 206.8 262.7)" fill="#f58926"/><ellipse cx="220.8" cy="245.9" rx="50.3" ry="30.7" transform="rotate(30 220.8 245.9)" fill="#f72b38"/><ellipse cx="190.1" cy="279.5" rx="25.2" ry="16.8" transform="rotate(30 190.1 279.5)" fill="#f54632"/><ellipse cx="223.6" cy="329.8" rx="83.8" ry="14" transform="rotate(0 223.6 329.8)" fill="#f59b23"/><ellipse cx="111.8" cy="424.8" rx="125.8" ry="33.5" transform="rotate(0 111.8 424.8)" fill="#584cf9"/><ellipse cx="237.6" cy="441.6" rx="50.3" ry="16.8" transform="rotate(0 237.6 441.6)" fill="#7634f5"/></g></g>
<use href="#over"/>
<use href="#purp"/>
<use href="#trk_T85"/>
<use href="#lbox"/>
<text x="155" y="49.2" font-size="31.5" font-weight="bold" font-family="Liberation Sans, Arial, sans-serif" textLength="179" lengthAdjust="spacingAndGlyphs">2017–08–20</text>
<line x1="285.6" y1="200.4" x2="272" y2="228" stroke="#000" stroke-width="1.3"/>
<g transform="translate(294.3,182.7) rotate(0)"><circle r="19.3" fill="#fff" stroke="#000" stroke-width="1.3"/><path d="M -19.2,0 C -11.6,-17.3 11.6,-17.3 19.2,0 C 11.6,9.3 -11.6,9.3 -19.2,0 Z" fill="#00ffff" stroke="#000" stroke-width="1.1"/></g>
<text x="224.8" y="156.6" font-size="20.4" font-family="Liberation Sans, Arial, sans-serif" textLength="136" lengthAdjust="spacingAndGlyphs">8 August 2017</text>
</svg>
<rect x="161.8" y="523.6" width="491.3" height="454.3" fill="none" stroke="#000" stroke-width="2.7"/>
<path d="M161.8,522.3V517.3M161.8,979.2V984.2M325.6,522.3V517.3M325.6,979.2V984.2M489.3,522.3V517.3M489.3,979.2V984.2M653.1,522.3V517.3M653.1,979.2V984.2M160.5,661.1H155.5M654.4,661.1H659.4M160.5,887.7H155.5M654.4,887.7H659.4" stroke="#000" stroke-width="1.2" fill="none"/>
<svg x="664.7" y="523.6" width="491.3" height="454.3" viewBox="0 0 491.3 454.3" overflow="hidden">
<use href="#basemap"/>
<g mask="url(#cov5)"><g filter="url(#bl8)"><rect x="-30" y="-30" width="560" height="520" fill="#e4e720"/><ellipse cx="433.2" cy="209.6" rx="83.8" ry="111.8" transform="rotate(0 433.2 209.6)" fill="#40c882"/><ellipse cx="391.3" cy="55.9" rx="111.8" ry="61.5" transform="rotate(0 391.3 55.9)" fill="#f5622d"/><ellipse cx="457.8" cy="84.7" rx="25.2" ry="25.2" transform="rotate(0 457.8 84.7)" fill="#f72639"/><ellipse cx="475.1" cy="33.5" rx="22.4" ry="22.4" transform="rotate(0 475.1 33.5)" fill="#f63037"/><ellipse cx="310.2" cy="143.9" rx="36.3" ry="44.7" transform="rotate(0 310.2 143.9)" fill="#58cb6c"/><ellipse cx="315.8" cy="234.8" rx="39.1" ry="47.5" transform="rotate(0 315.8 234.8)" fill="#1cc8d2"/><ellipse cx="363.3" cy="234.8" rx="21" ry="19.6" transform="rotate(0 363.3 234.8)" fill="#584cf9"/><ellipse cx="296.3" cy="195.6" rx="16.8" ry="8.4" transform="rotate(0 296.3 195.6)" fill="#4e5cf8"/><ellipse cx="145.3" cy="276.7" rx="30.7" ry="36.3" transform="rotate(0 145.3 276.7)" fill="#f5c31d"/><ellipse cx="190.1" cy="220.8" rx="92.2" ry="69.9" transform="rotate(35 190.1 220.8)" fill="#f57d28"/><ellipse cx="220.8" cy="237.6" rx="50.3" ry="27.9" transform="rotate(30 220.8 237.6)" fill="#f7223a"/><ellipse cx="195.6" cy="433.2" rx="69.9" ry="22.4" transform="rotate(0 195.6 433.2)" fill="#f5d21c"/></g></g>
<use href="#over"/>
<use href="#purp"/>
<use href="#trk_T12"/>
<use href="#lbox"/>
<text x="155" y="49.2" font-size="31.5" font-weight="bold" font-family="Liberation Sans, Arial, sans-serif" textLength="179" lengthAdjust="spacingAndGlyphs">2017–08–15</text>
</svg>
<rect x="664.7" y="523.6" width="491.3" height="454.3" fill="none" stroke="#000" stroke-width="2.7"/>
<path d="M664.7,522.3V517.3M664.7,979.2V984.2M828.5,522.3V517.3M828.5,979.2V984.2M992.2,522.3V517.3M992.2,979.2V984.2M1156,522.3V517.3M1156,979.2V984.2M663.4,661.1H658.4M1157.3,661.1H1162.3M663.4,887.7H658.4M1157.3,887.7H1162.3" stroke="#000" stroke-width="1.2" fill="none"/>
<svg x="1167.6" y="523.6" width="491.3" height="454.3" viewBox="0 0 491.3 454.3" overflow="hidden">
<use href="#basemap"/>
<g mask="url(#cov6)"><g filter="url(#bl8)"><rect x="-30" y="-30" width="560" height="520" fill="#2bc8a5"/><ellipse cx="50.3" cy="39.1" rx="61.5" ry="47.5" transform="rotate(0 50.3 39.1)" fill="#73d05a"/><ellipse cx="83.8" cy="156.5" rx="92.2" ry="44.7" transform="rotate(0 83.8 156.5)" fill="#26c8af"/><ellipse cx="41.9" cy="195.6" rx="55.9" ry="8.4" transform="rotate(5 41.9 195.6)" fill="#7cd154"/><ellipse cx="106.2" cy="139.7" rx="11.2" ry="7" transform="rotate(0 106.2 139.7)" fill="#e4e720"/><ellipse cx="61.5" cy="234.8" rx="67.1" ry="15.4" transform="rotate(8 61.5 234.8)" fill="#7634f5"/><ellipse cx="111.8" cy="285.1" rx="106.2" ry="30.7" transform="rotate(0 111.8 285.1)" fill="#20c8c3"/><ellipse cx="245.9" cy="150.9" rx="117.4" ry="44.7" transform="rotate(0 245.9 150.9)" fill="#46c878"/><ellipse cx="391.3" cy="111.8" rx="97.8" ry="97.8" transform="rotate(0 391.3 111.8)" fill="#28c8aa"/><ellipse cx="424.8" cy="195.6" rx="27.9" ry="9.8" transform="rotate(25 424.8 195.6)" fill="#4e5cf8"/><ellipse cx="486.3" cy="273.9" rx="11.2" ry="36.3" transform="rotate(0 486.3 273.9)" fill="#8c28f0"/><ellipse cx="433.2" cy="279.5" rx="55.9" ry="41.9" transform="rotate(0 433.2 279.5)" fill="#20b8e1"/><ellipse cx="195.6" cy="145.3" rx="83.8" ry="33.5" transform="rotate(0 195.6 145.3)" fill="#73d05a"/><ellipse cx="251.5" cy="240.4" rx="75.5" ry="72.7" transform="rotate(0 251.5 240.4)" fill="#a0d73c"/><ellipse cx="251.5" cy="240.4" rx="60.1" ry="57.3" transform="rotate(0 251.5 240.4)" fill="#f5e11a"/><ellipse cx="251.5" cy="240.4" rx="47.5" ry="44.7" transform="rotate(0 251.5 240.4)" fill="#f57d28"/><ellipse cx="251.5" cy="240.4" rx="39.1" ry="34.9" transform="rotate(0 251.5 240.4)" fill="#f54632"/><ellipse cx="97.8" cy="405.3" rx="97.8" ry="47.5" transform="rotate(0 97.8 405.3)" fill="#73d05a"/></g></g>
<use href="#over"/>
<use href="#purp"/>
<use href="#trk_T63"/>
<use href="#lbox"/>
<text x="155" y="49.2" font-size="31.5" font-weight="bold" font-family="Liberation Sans, Arial, sans-serif" textLength="179" lengthAdjust="spacingAndGlyphs">2018–11–30</text>
</svg>
<rect x="1167.6" y="523.6" width="491.3" height="454.3" fill="none" stroke="#000" stroke-width="2.7"/>
<path d="M1167.6,522.3V517.3M1167.6,979.2V984.2M1331.4,522.3V517.3M1331.4,979.2V984.2M1495.1,522.3V517.3M1495.1,979.2V984.2M1658.9,522.3V517.3M1658.9,979.2V984.2M1166.3,661.1H1161.3M1660.2,661.1H1665.2M1166.3,887.7H1161.3M1660.2,887.7H1665.2" stroke="#000" stroke-width="1.2" fill="none"/>
<svg x="1670.5" y="523.6" width="491.3" height="454.3" viewBox="0 0 491.3 454.3" overflow="hidden">
<use href="#basemap"/>
<g mask="url(#cov7)"><g filter="url(#bl8)"><rect x="-30" y="-30" width="560" height="520" fill="#58cb6c"/><ellipse cx="201.2" cy="192.8" rx="36.3" ry="22.4" transform="rotate(0 201.2 192.8)" fill="#37c891"/><ellipse cx="419.2" cy="279.5" rx="78.3" ry="55.9" transform="rotate(0 419.2 279.5)" fill="#34c896"/><ellipse cx="475.1" cy="293.5" rx="22.4" ry="22.4" transform="rotate(0 475.1 293.5)" fill="#20c8c3"/><ellipse cx="192.8" cy="265.5" rx="36.3" ry="19.6" transform="rotate(30 192.8 265.5)" fill="#1cc8d2"/><ellipse cx="190.1" cy="296.3" rx="39.1" ry="19.6" transform="rotate(20 190.1 296.3)" fill="#4e5cf8"/><ellipse cx="159.3" cy="308.8" rx="14" ry="8.4" transform="rotate(0 159.3 308.8)" fill="#9125eb"/><ellipse cx="265.5" cy="313" rx="44.7" ry="14" transform="rotate(0 265.5 313)" fill="#19c8dc"/><ellipse cx="268.3" cy="237.6" rx="92.2" ry="61.5" transform="rotate(0 268.3 237.6)" fill="#f5e11a"/><ellipse cx="268.3" cy="237.6" rx="69.9" ry="47.5" transform="rotate(0 268.3 237.6)" fill="#f57d28"/><ellipse cx="268.3" cy="237.6" rx="47.5" ry="33.5" transform="rotate(0 268.3 237.6)" fill="#f54632"/><ellipse cx="209.6" cy="427.6" rx="83.8" ry="27.9" transform="rotate(0 209.6 427.6)" fill="#46c878"/></g></g>
<use href="#over"/>
<use href="#purp"/>
<use href="#trk_T165"/>
<use href="#lbox"/>
<text x="155" y="49.2" font-size="31.5" font-weight="bold" font-family="Liberation Sans, Arial, sans-serif" textLength="179" lengthAdjust="spacingAndGlyphs">2018–08–09</text>
</svg>
<rect x="1670.5" y="523.6" width="491.3" height="454.3" fill="none" stroke="#000" stroke-width="2.7"/>
<path d="M1670.5,522.3V517.3M1670.5,979.2V984.2M1834.3,522.3V517.3M1834.3,979.2V984.2M1998,522.3V517.3M1998,979.2V984.2M2161.8,522.3V517.3M2161.8,979.2V984.2M1669.2,661.1H1664.2M2163.1,661.1H2168.1M1669.2,887.7H1664.2M2163.1,887.7H2168.1" stroke="#000" stroke-width="1.2" fill="none"/>
<svg x="161.8" y="1001.2" width="491.3" height="454.3" viewBox="0 0 491.3 454.3" overflow="hidden">
<use href="#basemap"/>
<g mask="url(#cov8)"><g filter="url(#bl8)"><rect x="-30" y="-30" width="560" height="520" fill="#37c891"/><ellipse cx="223.6" cy="69.9" rx="195.6" ry="69.9" transform="rotate(0 223.6 69.9)" fill="#2ec8a0"/><ellipse cx="69.9" cy="111.8" rx="69.9" ry="27.9" transform="rotate(0 69.9 111.8)" fill="#20c8c3"/><ellipse cx="209.6" cy="153.7" rx="125.8" ry="27.9" transform="rotate(0 209.6 153.7)" fill="#73d05a"/><ellipse cx="5.6" cy="223.6" rx="11.2" ry="8.4" transform="rotate(0 5.6 223.6)" fill="#3c78f5"/><ellipse cx="27.9" cy="251.5" rx="41.9" ry="14" transform="rotate(0 27.9 251.5)" fill="#20c8c3"/><ellipse cx="371.7" cy="229.2" rx="30.7" ry="16.8" transform="rotate(0 371.7 229.2)" fill="#1cc8d2"/><ellipse cx="218" cy="237.6" rx="134.2" ry="106.2" transform="rotate(0 218 237.6)" fill="#7cd154"/><ellipse cx="223.6" cy="234.8" rx="100.6" ry="83.8" transform="rotate(0 223.6 234.8)" fill="#b1db35"/><ellipse cx="223.6" cy="234.8" rx="81.1" ry="64.3" transform="rotate(0 223.6 234.8)" fill="#f5e11a"/><ellipse cx="223.6" cy="234.8" rx="58.7" ry="44.7" transform="rotate(0 223.6 234.8)" fill="#f5722a"/><ellipse cx="223.6" cy="234.8" rx="39.1" ry="27.9" transform="rotate(10 223.6 234.8)" fill="#f8193c"/><ellipse cx="83.8" cy="405.3" rx="83.8" ry="55.9" transform="rotate(0 83.8 405.3)" fill="#28c8aa"/></g></g>
<use href="#over"/>
<use href="#purp"/>
<use href="#trk_T85"/>
<use href="#lbox"/>
<text x="155" y="49.2" font-size="31.5" font-weight="bold" font-family="Liberation Sans, Arial, sans-serif" textLength="179" lengthAdjust="spacingAndGlyphs">2018–11–19</text>
<line x1="285.6" y1="200.4" x2="272" y2="228" stroke="#000" stroke-width="1.3"/>
<g transform="translate(294.3,182.7) rotate(0)"><circle r="19.3" fill="#fff" stroke="#000" stroke-width="1.3"/><path d="M -19.2,0 C -11.6,-17.3 11.6,-17.3 19.2,0 C 11.6,9.3 -11.6,9.3 -19.2,0 Z" fill="#00ffff" stroke="#000" stroke-width="1.1"/></g>
<text x="224.8" y="156.6" font-size="20.4" font-family="Liberation Sans, Arial, sans-serif" textLength="136" lengthAdjust="spacingAndGlyphs">8 August 2017</text>
<line x1="190" y1="271" x2="190" y2="280" stroke="#000" stroke-width="1.3"/>
<g transform="translate(189.3,295.5) rotate(-6)"><circle r="16.1" fill="#fff" stroke="#000" stroke-width="1.3"/><path d="M -16,0 C -9.7,-13.3 9.7,-13.3 16,0 C 9.7,9.3 -9.7,9.3 -16,0 Z" fill="#808000" stroke="#000" stroke-width="1.1"/></g>
<text x="112.5" y="333.3" font-size="20.4" font-family="Liberation Sans, Arial, sans-serif" textLength="157" lengthAdjust="spacingAndGlyphs">16 October 2018</text>
</svg>
<rect x="161.8" y="1001.2" width="491.3" height="454.3" fill="none" stroke="#000" stroke-width="2.7"/>
<path d="M161.8,999.9V994.9M161.8,1456.8V1461.8M325.6,999.9V994.9M325.6,1456.8V1461.8M489.3,999.9V994.9M489.3,1456.8V1461.8M653.1,999.9V994.9M653.1,1456.8V1461.8M160.5,1138.7H155.5M654.4,1138.7H659.4M160.5,1365.3H155.5M654.4,1365.3H659.4" stroke="#000" stroke-width="1.2" fill="none"/>
<svg x="664.7" y="1001.2" width="491.3" height="454.3" viewBox="0 0 491.3 454.3" overflow="hidden">
<use href="#basemap"/>
<g mask="url(#cov9)"><g filter="url(#bl8)"><rect x="-30" y="-30" width="560" height="520" fill="#f5eb19"/><ellipse cx="279.5" cy="111.8" rx="92.2" ry="30.7" transform="rotate(0 279.5 111.8)" fill="#f5c31d"/><ellipse cx="354.9" cy="139.7" rx="25.2" ry="36.3" transform="rotate(0 354.9 139.7)" fill="#f58926"/><ellipse cx="117.4" cy="229.2" rx="25.2" ry="25.2" transform="rotate(0 117.4 229.2)" fill="#8ed448"/><ellipse cx="452.8" cy="36.3" rx="47.5" ry="39.1" transform="rotate(0 452.8 36.3)" fill="#20c8c3"/><ellipse cx="410.8" cy="41.9" rx="14" ry="11.2" transform="rotate(0 410.8 41.9)" fill="#3c78f5"/><ellipse cx="447.2" cy="97.8" rx="55.9" ry="27.9" transform="rotate(0 447.2 97.8)" fill="#8ed448"/><ellipse cx="447.2" cy="223.6" rx="69.9" ry="83.8" transform="rotate(0 447.2 223.6)" fill="#7cd154"/><ellipse cx="469.5" cy="181.7" rx="27.9" ry="41.9" transform="rotate(0 469.5 181.7)" fill="#40c882"/><ellipse cx="341" cy="251.5" rx="36.3" ry="27.9" transform="rotate(0 341 251.5)" fill="#73d05a"/><ellipse cx="226.4" cy="237.6" rx="89.4" ry="69.9" transform="rotate(0 226.4 237.6)" fill="#f5722a"/><ellipse cx="226.4" cy="237.6" rx="53.1" ry="39.1" transform="rotate(0 226.4 237.6)" fill="#f8193c"/><ellipse cx="195.6" cy="433.2" rx="69.9" ry="22.4" transform="rotate(0 195.6 433.2)" fill="#46c878"/></g></g>
<use href="#over"/>
<use href="#purp"/>
<use href="#trk_T12"/>
<use href="#lbox"/>
<text x="155" y="49.2" font-size="31.5" font-weight="bold" font-family="Liberation Sans, Arial, sans-serif" textLength="179" lengthAdjust="spacingAndGlyphs">2018–05–18</text>
</svg>
<rect x="664.7" y="1001.2" width="491.3" height="454.3" fill="none" stroke="#000" stroke-width="2.7"/>
<path d="M664.7,999.9V994.9M664.7,1456.8V1461.8M828.5,999.9V994.9M828.5,1456.8V1461.8M992.2,999.9V994.9M992.2,1456.8V1461.8M1156,999.9V994.9M1156,1456.8V1461.8M663.4,1138.7H658.4M1157.3,1138.7H1162.3M663.4,1365.3H658.4M1157.3,1365.3H1162.3" stroke="#000" stroke-width="1.2" fill="none"/>
<svg x="1167.6" y="1001.2" width="491.3" height="454.3" viewBox="0 0 491.3 454.3" overflow="hidden">
<use href="#basemap"/>
<g mask="url(#cov10)"><g filter="url(#bl8)"><rect x="-30" y="-30" width="560" height="520" fill="#31c89b"/><ellipse cx="41.9" cy="36.3" rx="61.5" ry="55.9" transform="rotate(0 41.9 36.3)" fill="#a0d73c"/><ellipse cx="83.8" cy="156.5" rx="92.2" ry="44.7" transform="rotate(0 83.8 156.5)" fill="#25c8b4"/><ellipse cx="111.8" cy="139.7" rx="16.8" ry="7" transform="rotate(30 111.8 139.7)" fill="#f5eb19"/><ellipse cx="61.5" cy="232" rx="67.1" ry="16.8" transform="rotate(8 61.5 232)" fill="#8c28f0"/><ellipse cx="111.8" cy="285.1" rx="106.2" ry="30.7" transform="rotate(0 111.8 285.1)" fill="#1fc8c8"/><ellipse cx="131.4" cy="296.3" rx="22.4" ry="11.2" transform="rotate(0 131.4 296.3)" fill="#4e5cf8"/><ellipse cx="245.9" cy="150.9" rx="117.4" ry="44.7" transform="rotate(0 245.9 150.9)" fill="#58cb6c"/><ellipse cx="391.3" cy="111.8" rx="97.8" ry="97.8" transform="rotate(0 391.3 111.8)" fill="#28c8aa"/><ellipse cx="405.3" cy="195.6" rx="36.3" ry="11.2" transform="rotate(25 405.3 195.6)" fill="#4e5cf8"/><ellipse cx="480.7" cy="293.5" rx="14" ry="33.5" transform="rotate(0 480.7 293.5)" fill="#9820e4"/><ellipse cx="433.2" cy="279.5" rx="61.5" ry="44.7" transform="rotate(0 433.2 279.5)" fill="#3588f0"/><ellipse cx="251.5" cy="239" rx="72.7" ry="67.1" transform="rotate(0 251.5 239)" fill="#a0d73c"/><ellipse cx="251.5" cy="239" rx="58.7" ry="53.1" transform="rotate(0 251.5 239)" fill="#f5e11a"/><ellipse cx="251.5" cy="239" rx="47.5" ry="41.9" transform="rotate(0 251.5 239)" fill="#f5722a"/><ellipse cx="251.5" cy="239" rx="39.1" ry="33.5" transform="rotate(0 251.5 239)" fill="#f55130"/><ellipse cx="97.8" cy="405.3" rx="97.8" ry="47.5" transform="rotate(0 97.8 405.3)" fill="#8ed448"/></g></g>
<use href="#over"/>
<use href="#purp"/>
<use href="#trk_T63"/>
<use href="#lbox"/>
<text x="155" y="49.2" font-size="31.5" font-weight="bold" font-family="Liberation Sans, Arial, sans-serif" textLength="179" lengthAdjust="spacingAndGlyphs">2019–05–05</text>
</svg>
<rect x="1167.6" y="1001.2" width="491.3" height="454.3" fill="none" stroke="#000" stroke-width="2.7"/>
<path d="M1167.6,999.9V994.9M1167.6,1456.8V1461.8M1331.4,999.9V994.9M1331.4,1456.8V1461.8M1495.1,999.9V994.9M1495.1,1456.8V1461.8M1658.9,999.9V994.9M1658.9,1456.8V1461.8M1166.3,1138.7H1161.3M1660.2,1138.7H1665.2M1166.3,1365.3H1161.3M1660.2,1365.3H1665.2" stroke="#000" stroke-width="1.2" fill="none"/>
<svg x="1670.5" y="1001.2" width="491.3" height="454.3" viewBox="0 0 491.3 454.3" overflow="hidden">
<use href="#basemap"/>
<g mask="url(#cov11)"><g filter="url(#bl8)"><rect x="-30" y="-30" width="560" height="520" fill="#61cc66"/><ellipse cx="201.2" cy="192.8" rx="36.3" ry="22.4" transform="rotate(0 201.2 192.8)" fill="#34c896"/><ellipse cx="265.5" cy="307.4" rx="83.8" ry="19.6" transform="rotate(0 265.5 307.4)" fill="#46c878"/><ellipse cx="251.5" cy="318.6" rx="22.4" ry="8.4" transform="rotate(0 251.5 318.6)" fill="#1fc8c8"/><ellipse cx="419.2" cy="279.5" rx="78.3" ry="55.9" transform="rotate(0 419.2 279.5)" fill="#73d05a"/><ellipse cx="268.3" cy="243.2" rx="86.6" ry="61.5" transform="rotate(0 268.3 243.2)" fill="#f5e11a"/><ellipse cx="268.3" cy="243.2" rx="64.3" ry="47.5" transform="rotate(0 268.3 243.2)" fill="#f57d28"/><ellipse cx="268.3" cy="243.2" rx="41.9" ry="33.5" transform="rotate(0 268.3 243.2)" fill="#f63037"/><ellipse cx="209.6" cy="419.2" rx="83.8" ry="41.9" transform="rotate(0 209.6 419.2)" fill="#b1db35"/></g></g>
<use href="#over"/>
<use href="#purp"/>
<use href="#trk_T165"/>
<use href="#lbox"/>
<text x="155" y="49.2" font-size="31.5" font-weight="bold" font-family="Liberation Sans, Arial, sans-serif" textLength="179" lengthAdjust="spacingAndGlyphs">2019–12–02</text>
</svg>
<rect x="1670.5" y="1001.2" width="491.3" height="454.3" fill="none" stroke="#000" stroke-width="2.7"/>
<path d="M1670.5,999.9V994.9M1670.5,1456.8V1461.8M1834.3,999.9V994.9M1834.3,1456.8V1461.8M1998,999.9V994.9M1998,1456.8V1461.8M2161.8,999.9V994.9M2161.8,1456.8V1461.8M1669.2,1138.7H1664.2M2163.1,1138.7H2168.1M1669.2,1365.3H1664.2M2163.1,1365.3H2168.1" stroke="#000" stroke-width="1.2" fill="none"/>
<svg x="161.8" y="1478.8" width="491.3" height="454.3" viewBox="0 0 491.3 454.3" overflow="hidden">
<use href="#basemap"/>
<g mask="url(#cov12)"><g filter="url(#bl8)"><rect x="-30" y="-30" width="560" height="520" fill="#61cc66"/><ellipse cx="41.9" cy="33.5" rx="64.3" ry="55.9" transform="rotate(0 41.9 33.5)" fill="#a8d938"/><ellipse cx="78.3" cy="55.9" rx="16.8" ry="11.2" transform="rotate(0 78.3 55.9)" fill="#f5eb19"/><ellipse cx="16.8" cy="22.4" rx="16.8" ry="14" transform="rotate(0 16.8 22.4)" fill="#e4e720"/><ellipse cx="33.5" cy="156.5" rx="55.9" ry="78.3" transform="rotate(0 33.5 156.5)" fill="#2bc8a5"/><ellipse cx="349.4" cy="69.9" rx="69.9" ry="41.9" transform="rotate(0 349.4 69.9)" fill="#a0d73c"/><ellipse cx="391.3" cy="223.6" rx="55.9" ry="33.5" transform="rotate(0 391.3 223.6)" fill="#37c891"/><ellipse cx="212.4" cy="240.4" rx="139.7" ry="117.4" transform="rotate(0 212.4 240.4)" fill="#8ed448"/><ellipse cx="218" cy="234.8" rx="97.8" ry="89.4" transform="rotate(0 218 234.8)" fill="#b1db35"/><ellipse cx="218" cy="234.8" rx="78.3" ry="69.9" transform="rotate(0 218 234.8)" fill="#f5e11a"/><ellipse cx="218" cy="234.8" rx="58.7" ry="50.3" transform="rotate(0 218 234.8)" fill="#f5722a"/><ellipse cx="218" cy="234.8" rx="36.3" ry="30.7" transform="rotate(0 218 234.8)" fill="#f8193c"/><ellipse cx="83.8" cy="405.3" rx="83.8" ry="55.9" transform="rotate(0 83.8 405.3)" fill="#46c878"/><ellipse cx="237.6" cy="413.6" rx="41.9" ry="22.4" transform="rotate(0 237.6 413.6)" fill="#e4e720"/></g></g>
<use href="#over"/>
<use href="#purp"/>
<use href="#trk_T85"/>
<use href="#lbox"/>
<text x="155" y="49.2" font-size="31.5" font-weight="bold" font-family="Liberation Sans, Arial, sans-serif" textLength="179" lengthAdjust="spacingAndGlyphs">2020–01–25</text>
</svg>
<rect x="161.8" y="1478.8" width="491.3" height="454.3" fill="none" stroke="#000" stroke-width="2.7"/>
<path d="M161.8,1477.5V1472.5M161.8,1934.4V1939.4M325.6,1477.5V1472.5M325.6,1934.4V1939.4M489.3,1477.5V1472.5M489.3,1934.4V1939.4M653.1,1477.5V1472.5M653.1,1934.4V1939.4M160.5,1616.3H155.5M654.4,1616.3H659.4M160.5,1842.9H155.5M654.4,1842.9H659.4" stroke="#000" stroke-width="1.2" fill="none"/>
<svg x="664.7" y="1478.8" width="491.3" height="454.3" viewBox="0 0 491.3 454.3" overflow="hidden">
<use href="#basemap"/>
<g mask="url(#cov13)"><g filter="url(#bl8)"><rect x="-30" y="-30" width="560" height="520" fill="#37c891"/><ellipse cx="447.2" cy="55.9" rx="69.9" ry="69.9" transform="rotate(0 447.2 55.9)" fill="#25c8b4"/><ellipse cx="419.2" cy="195.6" rx="83.8" ry="83.8" transform="rotate(0 419.2 195.6)" fill="#28c8aa"/><ellipse cx="237" cy="237.6" rx="86.6" ry="72.7" transform="rotate(0 237 237.6)" fill="#a0d73c"/><ellipse cx="237" cy="237.6" rx="69.9" ry="58.7" transform="rotate(0 237 237.6)" fill="#f5e11a"/><ellipse cx="237" cy="237.6" rx="51.7" ry="39.1" transform="rotate(0 237 237.6)" fill="#f58926"/><ellipse cx="237" cy="237.6" rx="39.1" ry="26.6" transform="rotate(0 237 237.6)" fill="#f54632"/><ellipse cx="251.5" cy="313" rx="33.5" ry="8.4" transform="rotate(0 251.5 313)" fill="#19c8dc"/><ellipse cx="195.6" cy="433.2" rx="69.9" ry="22.4" transform="rotate(0 195.6 433.2)" fill="#73d05a"/></g></g>
<use href="#over"/>
<use href="#purp"/>
<use href="#trk_T12"/>
<use href="#lbox"/>
<text x="155" y="49.2" font-size="31.5" font-weight="bold" font-family="Liberation Sans, Arial, sans-serif" textLength="179" lengthAdjust="spacingAndGlyphs">2020–02–01</text>
</svg>
<rect x="664.7" y="1478.8" width="491.3" height="454.3" fill="none" stroke="#000" stroke-width="2.7"/>
<path d="M664.7,1477.5V1472.5M664.7,1934.4V1939.4M828.5,1477.5V1472.5M828.5,1934.4V1939.4M992.2,1477.5V1472.5M992.2,1934.4V1939.4M1156,1477.5V1472.5M1156,1934.4V1939.4M663.4,1616.3H658.4M1157.3,1616.3H1162.3M663.4,1842.9H658.4M1157.3,1842.9H1162.3" stroke="#000" stroke-width="1.2" fill="none"/>
<svg x="1167.6" y="1478.8" width="491.3" height="454.3" viewBox="0 0 491.3 454.3" overflow="hidden">
<use href="#basemap"/>
<g mask="url(#cov14)"><g filter="url(#bl8)"><rect x="-30" y="-30" width="560" height="520" fill="#3c78f5"/><ellipse cx="265.5" cy="195.6" rx="125.8" ry="111.8" transform="rotate(0 265.5 195.6)" fill="#19c8dc"/><ellipse cx="405.3" cy="69.9" rx="97.8" ry="69.9" transform="rotate(0 405.3 69.9)" fill="#19c8dc"/><ellipse cx="83.8" cy="167.7" rx="83.8" ry="27.9" transform="rotate(0 83.8 167.7)" fill="#5f41fa"/><ellipse cx="55.9" cy="229.2" rx="69.9" ry="16.8" transform="rotate(8 55.9 229.2)" fill="#9e1ede"/><ellipse cx="145.3" cy="293.5" rx="36.3" ry="16.8" transform="rotate(0 145.3 293.5)" fill="#683cf8"/><ellipse cx="452.8" cy="204" rx="44.7" ry="14" transform="rotate(20 452.8 204)" fill="#8c28f0"/><ellipse cx="483.5" cy="293.5" rx="11.2" ry="33.5" transform="rotate(0 483.5 293.5)" fill="#9820e4"/><ellipse cx="254.3" cy="240.4" rx="72.7" ry="64.3" transform="rotate(0 254.3 240.4)" fill="#28c8aa"/><ellipse cx="254.3" cy="240.4" rx="50.3" ry="44.7" transform="rotate(0 254.3 240.4)" fill="#e4e720"/><ellipse cx="254.3" cy="240.4" rx="30.7" ry="22.4" transform="rotate(0 254.3 240.4)" fill="#f5b91e"/><ellipse cx="139.7" cy="405.3" rx="181.7" ry="72.7" transform="rotate(0 139.7 405.3)" fill="#46c878"/><ellipse cx="83.8" cy="433.2" rx="55.9" ry="27.9" transform="rotate(0 83.8 433.2)" fill="#8ed448"/></g></g>
<use href="#over"/>
<use href="#purp"/>
<use href="#trk_T63"/>
<use href="#lbox"/>
<text x="155" y="49.2" font-size="31.5" font-weight="bold" font-family="Liberation Sans, Arial, sans-serif" textLength="179" lengthAdjust="spacingAndGlyphs">2020–01–24</text>
<g stroke="#e3121b" stroke-width="4"><line x1="262.5" y1="256" x2="296.5" y2="289"/><line x1="296.5" y1="256" x2="262.5" y2="289"/></g>
</svg>
<rect x="1167.6" y="1478.8" width="491.3" height="454.3" fill="none" stroke="#000" stroke-width="2.7"/>
<path d="M1167.6,1477.5V1472.5M1167.6,1934.4V1939.4M1331.4,1477.5V1472.5M1331.4,1934.4V1939.4M1495.1,1477.5V1472.5M1495.1,1934.4V1939.4M1658.9,1477.5V1472.5M1658.9,1934.4V1939.4M1166.3,1616.3H1161.3M1660.2,1616.3H1665.2M1166.3,1842.9H1161.3M1660.2,1842.9H1665.2" stroke="#000" stroke-width="1.2" fill="none"/>
<text x="160.8" y="37.4" font-size="35" text-anchor="middle" font-family="Liberation Sans, Arial, sans-serif">82.0<tspan font-size="27" dx="1" dy="-6">°</tspan></text>
<text x="324.6" y="37.4" font-size="35" text-anchor="middle" font-family="Liberation Sans, Arial, sans-serif">82.5<tspan font-size="27" dx="1" dy="-6">°</tspan></text>
<text x="488.3" y="37.4" font-size="35" text-anchor="middle" font-family="Liberation Sans, Arial, sans-serif">83.0<tspan font-size="27" dx="1" dy="-6">°</tspan></text>
<text x="652.1" y="37.4" font-size="35" text-anchor="middle" font-family="Liberation Sans, Arial, sans-serif">83.5<tspan font-size="27" dx="1" dy="-6">°</tspan></text>
<text x="150" y="196.3" font-size="35" text-anchor="end" font-family="Liberation Sans, Arial, sans-serif">44.5<tspan font-size="27" dx="1" dy="-6">°</tspan></text>
<text x="150" y="422.9" font-size="35" text-anchor="end" font-family="Liberation Sans, Arial, sans-serif">44.0<tspan font-size="27" dx="1" dy="-6">°</tspan></text>
<text x="103" y="93" font-size="50" font-weight="bold" font-family="Liberation Sans, Arial, sans-serif">a)</text>
<defs><linearGradient id="cbv" x1="0" y1="0" x2="0" y2="1">
<stop offset="0.0000" stop-color="#f8193c"/>
<stop offset="0.0417" stop-color="#f63037"/>
<stop offset="0.0833" stop-color="#f54632"/>
<stop offset="0.1250" stop-color="#f5622d"/>
<stop offset="0.1667" stop-color="#f57d28"/>
<stop offset="0.2083" stop-color="#f59b23"/>
<stop offset="0.2500" stop-color="#f5b91e"/>
<stop offset="0.2917" stop-color="#f5d21c"/>
<stop offset="0.3333" stop-color="#f5eb19"/>
<stop offset="0.3750" stop-color="#cae12a"/>
<stop offset="0.4167" stop-color="#a0d73c"/>
<stop offset="0.4583" stop-color="#73d05a"/>
<stop offset="0.5000" stop-color="#46c878"/>
<stop offset="0.5417" stop-color="#37c891"/>
<stop offset="0.5833" stop-color="#28c8aa"/>
<stop offset="0.6250" stop-color="#20c8c3"/>
<stop offset="0.6667" stop-color="#19c8dc"/>
<stop offset="0.7083" stop-color="#2aa0e8"/>
<stop offset="0.7500" stop-color="#3c78f5"/>
<stop offset="0.7917" stop-color="#4e5cf8"/>
<stop offset="0.8333" stop-color="#5f41fa"/>
<stop offset="0.8750" stop-color="#7634f5"/>
<stop offset="0.9167" stop-color="#8c28f0"/>
<stop offset="0.9583" stop-color="#9820e4"/>
<stop offset="1.0000" stop-color="#a519d7"/>
</linearGradient><linearGradient id="cbh" x1="0" y1="0" x2="1" y2="0"><stop offset="0" stop-color="#fff" stop-opacity="0.55"/><stop offset="1" stop-color="#fff" stop-opacity="0"/></linearGradient></defs>
<rect x="1793.6" y="1484.3" width="25.4" height="429.7" fill="url(#cbv)"/>
<rect x="1793.6" y="1484.3" width="25.4" height="429.7" fill="url(#cbh)"/>
<rect x="1793.6" y="1484.3" width="25.4" height="429.7" fill="none" stroke="#000" stroke-width="2.6"/>
<text x="1880.5" y="1503.4" font-size="29" text-anchor="end" font-family="Liberation Sans, Arial, sans-serif">60</text>
<text x="1880.5" y="1572.4" font-size="29" text-anchor="end" font-family="Liberation Sans, Arial, sans-serif">40</text>
<text x="1880.5" y="1641.4" font-size="29" text-anchor="end" font-family="Liberation Sans, Arial, sans-serif">20</text>
<text x="1880.5" y="1710.4" font-size="29" text-anchor="end" font-family="Liberation Sans, Arial, sans-serif">0</text>
<text x="1880.5" y="1779.4" font-size="29" text-anchor="end" font-family="Liberation Sans, Arial, sans-serif">−20</text>
<text x="1880.5" y="1848.4" font-size="29" text-anchor="end" font-family="Liberation Sans, Arial, sans-serif">−40</text>
<text x="1880.5" y="1917.4" font-size="29" text-anchor="end" font-family="Liberation Sans, Arial, sans-serif">−60</text>
<path d="M1820.3,1493H1825.5M1820.3,1562H1825.5M1820.3,1631H1825.5M1820.3,1700H1825.5M1820.3,1769H1825.5M1820.3,1838H1825.5M1820.3,1907H1825.5" stroke="#000" stroke-width="1.3"/>
<text transform="translate(1782,1894.5) rotate(-90)" font-size="35" font-family="Liberation Sans, Arial, sans-serif" textLength="387" lengthAdjust="spacingAndGlyphs">LOS displacements (mm)</text>
<text x="90" y="2007" font-size="53" font-weight="bold" font-family="Liberation Sans, Arial, sans-serif">b)</text>
<rect x="1086" y="2030" width="10" height="476.8" fill="#ff4500"/>
<rect x="161.5" y="2018.2" width="1964.1" height="488.6" fill="none" stroke="#000" stroke-width="2.2"/>
<text x="145" y="2505" font-size="43" text-anchor="end" font-family="Liberation Sans, Arial, sans-serif">−20</text>
<text x="2227" y="2509" font-size="54" text-anchor="end" font-family="Liberation Sans, Arial, sans-serif">−20</text>
<text x="145" y="2417.7" font-size="43" text-anchor="end" font-family="Liberation Sans, Arial, sans-serif">0</text>
<text x="2227" y="2421.7" font-size="54" text-anchor="end" font-family="Liberation Sans, Arial, sans-serif">0</text>
<text x="145" y="2330.5" font-size="43" text-anchor="end" font-family="Liberation Sans, Arial, sans-serif">20</text>
<text x="2227" y="2334.5" font-size="54" text-anchor="end" font-family="Liberation Sans, Arial, sans-serif">20</text>
<text x="145" y="2243.2" font-size="43" text-anchor="end" font-family="Liberation Sans, Arial, sans-serif">40</text>
<text x="2227" y="2247.2" font-size="54" text-anchor="end" font-family="Liberation Sans, Arial, sans-serif">40</text>
<text x="145" y="2156" font-size="43" text-anchor="end" font-family="Liberation Sans, Arial, sans-serif">60</text>
<text x="2227" y="2160" font-size="54" text-anchor="end" font-family="Liberation Sans, Arial, sans-serif">60</text>
<text x="145" y="2068.7" font-size="43" text-anchor="end" font-family="Liberation Sans, Arial, sans-serif">80</text>
<text x="2227" y="2072.7" font-size="54" text-anchor="end" font-family="Liberation Sans, Arial, sans-serif">80</text>
<path d="M160.5,2489.6H153.5M2126.6,2489.6H2133.1M160.5,2402.3H153.5M2126.6,2402.3H2133.1M160.5,2315.1H153.5M2126.6,2315.1H2133.1M160.5,2227.8H153.5M2126.6,2227.8H2133.1M160.5,2140.6H153.5M2126.6,2140.6H2133.1M160.5,2053.3H153.5M2126.6,2053.3H2133.1M161.5,2017.2V2011.2M161.5,2507.8V2513.3M518.8,2017.2V2011.2M518.8,2507.8V2513.3M876.1,2017.2V2011.2M876.1,2507.8V2513.3M1233.4,2017.2V2011.2M1233.4,2507.8V2513.3M1590.7,2017.2V2011.2M1590.7,2507.8V2513.3M1948,2017.2V2011.2M1948,2507.8V2513.3" stroke="#000" stroke-width="1.3"/>
<text x="340.2" y="2560.9" font-size="52" text-anchor="middle" font-family="Liberation Sans, Arial, sans-serif">2015</text>
<text x="697.5" y="2560.9" font-size="52" text-anchor="middle" font-family="Liberation Sans, Arial, sans-serif">2016</text>
<text x="1054.8" y="2560.9" font-size="52" text-anchor="middle" font-family="Liberation Sans, Arial, sans-serif">2017</text>
<text x="1412.1" y="2560.9" font-size="52" text-anchor="middle" font-family="Liberation Sans, Arial, sans-serif">2018</text>
<text x="1769.4" y="2560.9" font-size="52" text-anchor="middle" font-family="Liberation Sans, Arial, sans-serif">2019</text>
<text x="2036.8" y="2560.9" font-size="52" text-anchor="middle" font-family="Liberation Sans, Arial, sans-serif">2020</text>
<text x="1143.5" y="2630.5" font-size="63" text-anchor="middle" font-family="Liberation Sans, Arial, sans-serif" textLength="109" lengthAdjust="spacingAndGlyphs">Year</text>
<text transform="translate(46.5,2502.5) rotate(-90)" font-size="43" font-family="Liberation Sans, Arial, sans-serif" textLength="479" lengthAdjust="spacingAndGlyphs">LOS displacements (mm)</text>
<g fill="#1e90ff">
<circle cx="182.1" cy="2402.5" r="8"/>
<circle cx="205.7" cy="2361.7" r="8"/>
<circle cx="241.4" cy="2359.1" r="8"/>
<circle cx="264.3" cy="2354.7" r="8"/>
<circle cx="334.4" cy="2424.8" r="8"/>
<circle cx="381.5" cy="2385.3" r="8"/>
<circle cx="405.1" cy="2432.4" r="8"/>
<circle cx="428.7" cy="2401.8" r="8"/>
<circle cx="451.6" cy="2372.5" r="8"/>
<circle cx="499.4" cy="2431.8" r="8"/>
<circle cx="523.0" cy="2440.1" r="8"/>
<circle cx="545.9" cy="2444.5" r="8"/>
<circle cx="569.5" cy="2421.6" r="8"/>
<circle cx="593.1" cy="2407.6" r="8"/>
<circle cx="616.0" cy="2403.7" r="8"/>
<circle cx="640.2" cy="2382.7" r="8"/>
<circle cx="663.2" cy="2432.4" r="8"/>
<circle cx="710.3" cy="2366.1" r="8"/>
<circle cx="733.9" cy="2388.4" r="8"/>
<circle cx="757.5" cy="2433.0" r="8"/>
<circle cx="781.1" cy="2375.7" r="8"/>
<circle cx="804.6" cy="2403.7" r="8"/>
<circle cx="827.6" cy="2366.1" r="8"/>
<circle cx="851.1" cy="2370.0" r="8"/>
<circle cx="875.4" cy="2425.4" r="8"/>
<circle cx="898.3" cy="2412.0" r="8"/>
<circle cx="921.9" cy="2408.2" r="8"/>
<circle cx="945.4" cy="2376.3" r="8"/>
<circle cx="969.0" cy="2439.4" r="8"/>
<circle cx="992.6" cy="2363.0" r="8"/>
<circle cx="1051.5" cy="2379.2" r="8"/>
<circle cx="1098.1" cy="2132.4" r="8"/>
<circle cx="1121.4" cy="2170.1" r="8"/>
<circle cx="1145.4" cy="2163.3" r="8"/>
<circle cx="1168.7" cy="2196.2" r="8"/>
<circle cx="1192.7" cy="2093.3" r="8"/>
<circle cx="1216.0" cy="2174.2" r="8"/>
<circle cx="1239.3" cy="2140.0" r="8"/>
<circle cx="1262.6" cy="2142.0" r="8"/>
<circle cx="1285.9" cy="2089.2" r="8"/>
<circle cx="1309.9" cy="2161.9" r="8"/>
<circle cx="1344.8" cy="2072.1" r="8"/>
<circle cx="1368.1" cy="2031.0" r="8"/>
<circle cx="1427.1" cy="2149.5" r="8"/>
<circle cx="1450.4" cy="2107.7" r="8"/>
<circle cx="1473.7" cy="2108.4" r="8"/>
<circle cx="1497.7" cy="2094.7" r="8"/>
<circle cx="1521.0" cy="2100.2" r="8"/>
<circle cx="1544.3" cy="2101.6" r="8"/>
<circle cx="1567.6" cy="2138.6" r="8"/>
<circle cx="1590.9" cy="2179.0" r="8"/>
<circle cx="1614.9" cy="2124.9" r="8"/>
<circle cx="1638.2" cy="2116.6" r="8"/>
<circle cx="1661.5" cy="2157.1" r="8"/>
<circle cx="1684.8" cy="2165.3" r="8"/>
<circle cx="1708.8" cy="2180.4" r="8"/>
<circle cx="1743.7" cy="2104.3" r="8"/>
<circle cx="1767.7" cy="2061.1" r="8"/>
<circle cx="1791.0" cy="2081.7" r="8"/>
<circle cx="1814.3" cy="2228.4" r="8"/>
<circle cx="1837.6" cy="2183.8" r="8"/>
<circle cx="1860.9" cy="2157.8" r="8"/>
<circle cx="1884.9" cy="2109.8" r="8"/>
<circle cx="1908.2" cy="2168.1" r="8"/>
<circle cx="1931.5" cy="2165.3" r="8"/>
<circle cx="1955.5" cy="2148.9" r="8"/>
<circle cx="1978.8" cy="2166.0" r="8"/>
</g>
<g transform="translate(1091,2017.8) rotate(0)"><circle r="19.2" fill="#fff" stroke="#000" stroke-width="1.3"/><path d="M -19.1,0 C -11.5,-17.3 11.5,-17.3 19.1,0 C 11.5,8.6 -11.5,8.6 -19.1,0 Z" fill="#00ffff" stroke="#000" stroke-width="1.1"/></g>
<g transform="translate(1515.5,2017.8) rotate(-4)"><circle r="16.2" fill="#fff" stroke="#000" stroke-width="1.3"/><path d="M -16.1,0 C -9.7,-14 9.7,-14 16.1,0 C 9.7,8 -9.7,8 -16.1,0 Z" fill="#808000" stroke="#000" stroke-width="1.1"/></g>
<text x="1122.5" y="1988.3" font-size="37.5" font-family="Liberation Sans, Arial, sans-serif" textLength="271" lengthAdjust="spacingAndGlyphs">08 August 2017</text>
<text x="1545" y="1988.3" font-size="37.5" font-family="Liberation Sans, Arial, sans-serif" textLength="287" lengthAdjust="spacingAndGlyphs">16 October 2018</text>
</svg></body></html>
